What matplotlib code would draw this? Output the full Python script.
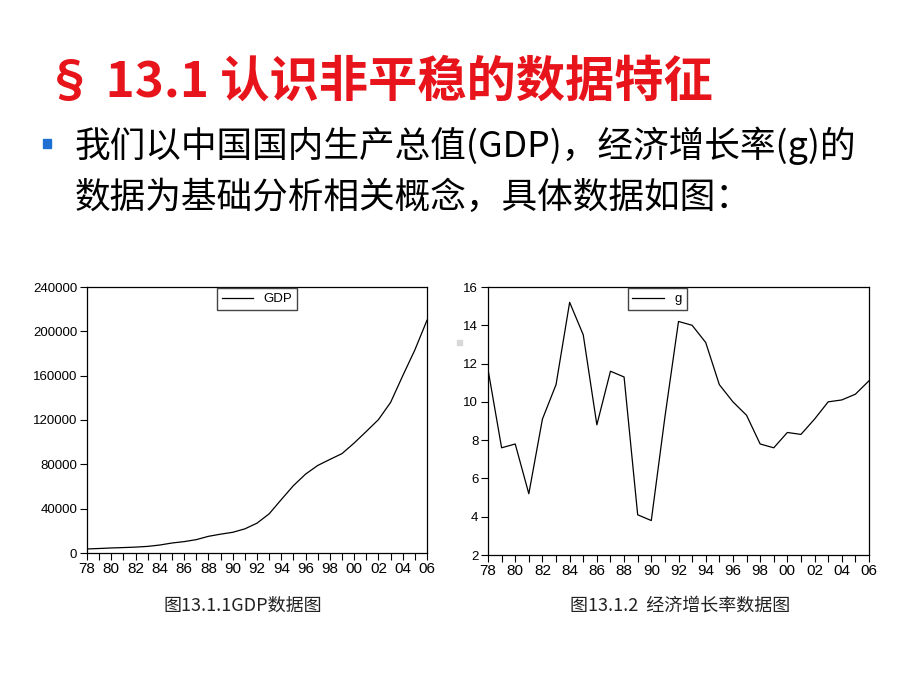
import matplotlib
matplotlib.use('Agg')
import matplotlib.pyplot as plt
from matplotlib.ticker import MultipleLocator, FuncFormatter
from matplotlib.patches import Rectangle

# Données : PIB de la Chine (亿元) et taux de croissance g (%), 1978-2006
years = list(range(1978, 2007))
gdp = [3645, 4063, 4546, 4892, 5323, 5963, 7208, 9016, 10275, 12059,
       15043, 16992, 18668, 21781, 26923, 35334, 48198, 60794, 71177, 78973,
       84402, 89677, 99215, 109655, 120333, 135823, 159878, 183200, 210000]
g = [11.7, 7.6, 7.8, 5.2, 9.1, 10.9, 15.2, 13.5, 8.8, 11.6,
     11.3, 4.1, 3.8, 9.2, 14.2, 14.0, 13.1, 10.9, 10.0, 9.3,
     7.8, 7.6, 8.4, 8.3, 9.1, 10.0, 10.1, 10.4, 11.1]

title = "§ 13.1 认识非平稳的数据特征"
body_lines = ["我们以中国国内生产总值(GDP)，经济增长率(g)的",
              "数据为基础分析相关概念，具体数据如图："]
captions = ["图13.1.1GDP数据图", "图13.1.2  经济增长率数据图"]

CJK = ['Noto Sans CJK SC', 'DejaVu Sans']
plt.rcParams['font.family'] = ['Liberation Sans', 'DejaVu Sans']

fig = plt.figure(figsize=(9.2, 6.9), dpi=100)

# Titre et texte
fig.text(45 / 920, 1 - 82 / 690, title, color='#e8141b', fontsize=35.5,
         fontweight='bold', family=CJK, va='center', ha='left')
fig.patches.append(Rectangle((43 / 920, 1 - 148 / 690), 8 / 920, 9 / 690,
                             transform=fig.transFigure, color='#1f6fd1'))
fig.text(75 / 920, 1 - 146 / 690, body_lines[0], fontsize=25.7,
         family=CJK, va='center', ha='left')
fig.text(75 / 920, 1 - 198 / 690, body_lines[1], fontsize=25.7,
         family=CJK, va='center', ha='left')


def style_axes(ax):
    ax.set_xlim(years[0], years[-1])
    ax.xaxis.set_major_locator(MultipleLocator(2))
    ax.xaxis.set_minor_locator(MultipleLocator(1))
    ax.xaxis.set_major_formatter(FuncFormatter(lambda v, p: f"{int(v) % 100:02d}"))
    ax.tick_params(axis='both', which='both', direction='out', length=5,
                   width=0.8, labelsize=9.5, pad=2)
    ax.tick_params(axis='x', labelsize=11, pad=1.5)
    for s in ax.spines.values():
        s.set_linewidth(0.9)


# Graphique PIB
ax1 = fig.add_axes([87 / 920, 137 / 690, 340 / 920, 266 / 690])
ax1.plot(years, gdp, color='black', lw=0.9, label='GDP')
ax1.set_ylim(0, 240000)
ax1.yaxis.set_major_locator(MultipleLocator(40000))
style_axes(ax1)
ax1.legend(loc='upper center', bbox_to_anchor=(0.5, 0.995), fontsize=9.5,
           fancybox=False, edgecolor='#444444', framealpha=1,
           handlelength=2.4, borderpad=0.35, borderaxespad=0)

# Graphique taux de croissance
ax2 = fig.add_axes([488 / 920, 135 / 690, 381 / 920, 268 / 690])
ax2.plot(years, g, color='black', lw=0.9, label='g')
ax2.set_ylim(2, 16)
ax2.yaxis.set_major_locator(MultipleLocator(2))
style_axes(ax2)
ax2.legend(loc='upper center', bbox_to_anchor=(0.444, 0.995), fontsize=9.5,
           fancybox=False, edgecolor='#444444', framealpha=1,
           handlelength=2.4, borderpad=0.35, borderaxespad=0)

# Légendes des figures
fig.text(243 / 920, 1 - 606 / 690, captions[0], fontsize=13, family=CJK,
         ha='center', va='center', color='#222222')
fig.text(680 / 920, 1 - 606 / 690, captions[1], fontsize=13, family=CJK,
         ha='center', va='center', color='#222222')

# petit carré gris (artefact de la diapositive)
fig.patches.append(Rectangle((457 / 920, 1 - 345 / 690), 5 / 920, 5 / 690,
                             transform=fig.transFigure, color='#d8d8d8'))

plt.savefig('out.png', dpi=100)
plt.close()
